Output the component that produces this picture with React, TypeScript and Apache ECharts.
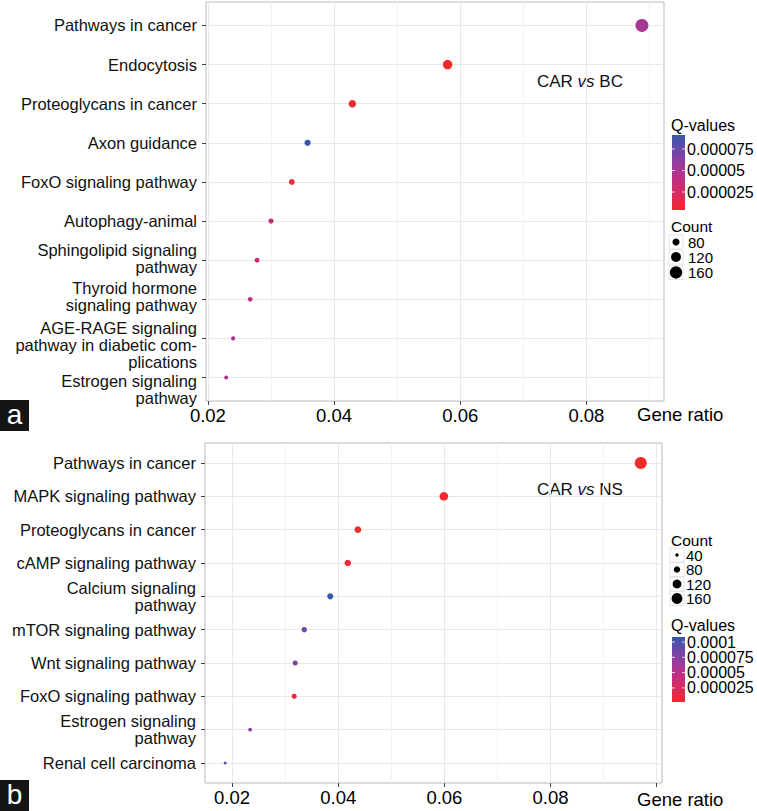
import React, { useEffect, useRef } from "react";
import * as echarts from "echarts";

// ---------- DATA ----------
const topCategories = [
  "Pathways in cancer",
  "Endocytosis",
  "Proteoglycans in cancer",
  "Axon guidance",
  "FoxO signaling pathway",
  "Autophagy-animal",
  "Sphingolipid signaling\npathway",
  "Thyroid hormone\nsignaling pathway",
  "AGE-RAGE signaling\npathway in diabetic com-\nplications",
  "Estrogen signaling\npathway",
];
const topGeneRatio = [0.0888, 0.058, 0.0429, 0.0358, 0.0333, 0.03, 0.0278, 0.0267, 0.024, 0.0229];
const topCount = [172, 112, 84, 70, 65, 58, 54, 52, 47, 45];
const topQValue = [0.00005, 0.0000041, 0.000006, 0.0000913, 0.000008, 0.000034, 0.000033, 0.000043, 0.000047, 0.000045];

const bottomCategories = [
  "Pathways in cancer",
  "MAPK signaling pathway",
  "Proteoglycans in cancer",
  "cAMP signaling pathway",
  "Calcium signaling\npathway",
  "mTOR signaling pathway",
  "Wnt signaling pathway",
  "FoxO signaling pathway",
  "Estrogen signaling\npathway",
  "Renal cell carcinoma",
];
const bottomGeneRatio = [0.097, 0.0599, 0.0437, 0.0418, 0.0385, 0.0336, 0.0319, 0.0317, 0.0234, 0.0187];
const bottomCount = [188, 116, 85, 81, 75, 65, 62, 61, 45, 36];
const bottomQValue = [0.000002, 0.000004, 0.000005, 0.000007, 0.0001082, 0.000087, 0.00008, 0.000008, 0.000074, 0.000092];

const xTickLabels = [0.02, 0.04, 0.06, 0.08];
const topMajorTicks = [0.02, 0.04, 0.06, 0.08];
const topMinorTicks = [0.03, 0.05, 0.07, 0.09];
const bottomMajorTicks = [0.02, 0.04, 0.06, 0.08, 0.1];
const bottomMinorTicks = [0.03, 0.05, 0.07, 0.09];

const topCountBreaks = [80, 120, 160];
const bottomCountBreaks = [40, 80, 120, 160];
const topQBreaks = [0.000075, 0.00005, 0.000025];
const topQLabels = ["0.000075", "0.00005", "0.000025"];
const bottomQBreaks = [0.0001, 0.000075, 0.00005, 0.000025];
const bottomQLabels = ["0.0001", "0.000075", "0.00005", "0.000025"];

// ---------- STYLE ----------
const FONT = "'Liberation Sans', Arial, Helvetica, sans-serif";
const qColors = ["#ef2a2b", "#da2a5a", "#c02f82", "#9c3a9e", "#6a48a7", "#3558ab"];
const LABEL_SIZE = 16.5;
const LABEL_LH = 17;
// vertical nudges (px, + = down) of some wrapped y labels, as in the reference
const topLabelNudge: Record<number, number> = { 6: -2, 7: -3, 8: 7, 9: 12 };
const bottomLabelNudge: Record<number, number> = {};

function sizeScale(counts: number[], range: [number, number]) {
  const lo = Math.sqrt(Math.min(...counts));
  const hi = Math.sqrt(Math.max(...counts));
  return (c: number) => range[0] + ((Math.sqrt(c) - lo) / (hi - lo)) * (range[1] - range[0]);
}

function nudgedLabel(text: string, nudge: number) {
  const body = text
    .split("\n")
    .map((l) => `{t|${l}}`)
    .join("\n");
  if (!nudge) return body;
  const gap = `{g${nudge > 0 ? "d" : "u"}${Math.abs(nudge)}| }`;
  return nudge > 0 ? `${gap}\n${body}` : `${body}\n${gap}`;
}

const panels = [
  {
    cats: topCategories,
    ratio: topGeneRatio,
    count: topCount,
    q: topQValue,
    nudge: topLabelNudge,
    grid: { left: 206, top: 2, width: 458, height: 399 },
    xMin: 0.0197,
    xMax: 0.0923,
    major: topMajorTicks,
    minor: topMinorTicks,
    sizeRange: [4, 13] as [number, number],
    title: { text: "{a|CAR }{i|vs}{a| BC}", x: 537, y: 81 },
    letter: { text: "a", y: 400 },
    geneRatioY: 414,
    countLegend: { titleY: 226, rows: [242, 257, 272.5], dotX: 676, labelX: 688, breaks: topCountBreaks },
    qLegend: { titleY: 125, barY: 135, barH: 75, breaks: topQBreaks, labels: topQLabels },
  },
  {
    cats: bottomCategories,
    ratio: bottomGeneRatio,
    count: bottomCount,
    q: bottomQValue,
    nudge: bottomLabelNudge,
    grid: { left: 205, top: 443, width: 457, height: 340 },
    xMin: 0.0149,
    xMax: 0.101,
    major: bottomMajorTicks,
    minor: bottomMinorTicks,
    sizeRange: [3, 12] as [number, number],
    title: { text: "{a|CAR }{i|vs}{a| NS}", x: 537, y: 489 },
    letter: { text: "b", y: 780 },
    geneRatioY: 799,
    countLegend: { titleY: 540, rows: [555, 569.5, 584, 598.5], dotX: 677, labelX: 686, breaks: bottomCountBreaks },
    qLegend: { titleY: 625, barY: 637, barH: 65, breaks: bottomQBreaks, labels: bottomQLabels },
  },
];

export default function App() {
  const ref = useRef<HTMLDivElement>(null);

  useEffect(() => {
    if (!ref.current) return;
    const chart = echarts.init(ref.current, null, { renderer: "svg" });

    const grid: any[] = [];
    const xAxis: any[] = [];
    const yAxis: any[] = [];
    const series: any[] = [];
    const visualMap: any[] = [];
    const graphic: any[] = [];

    panels.forEach((p, i) => {
      const size = sizeScale(p.count, p.sizeRange);
      const qMin = Math.min(...p.q);
      const qMax = Math.max(...p.q);
      const idx = p.cats.map((_, k) => k);
      const evenIdx = idx.filter((k) => k % 2 === 0);
      const oddIdx = idx.filter((k) => k % 2 === 1);

      grid.push({
        ...p.grid,
        show: true,
        borderColor: "#b8b8b8",
        borderWidth: 1,
        backgroundColor: "#ffffff",
      });

      xAxis.push({
        type: "value",
        gridIndex: i,
        min: p.xMin,
        max: p.xMax,
        position: "bottom",
        axisLine: { show: false, onZero: false },
        axisTick: { show: true, customValues: p.major, length: 4, lineStyle: { color: "#444", width: 1 } },
        axisLabel: {
          show: true,
          customValues: xTickLabels,
          showMinLabel: true,
          showMaxLabel: true,
          formatter: (v: number) => String(+Number(v).toFixed(2)),
          fontSize: 18.5,
          fontFamily: FONT,
          color: "#000",
          margin: 5,
        },
        splitLine: { show: true, lineStyle: { color: "#e8e8e8", width: 1 } },
      });
      xAxis.push({
        type: "value",
        gridIndex: i,
        min: p.xMin,
        max: p.xMax,
        position: "top",
        axisLine: { show: false, onZero: false },
        axisTick: { show: false, customValues: p.minor },
        axisLabel: { show: false },
        splitLine: { show: true, lineStyle: { color: "#f2f2f2", width: 1 } },
      });

      const rich: any = {
        t: { fontSize: LABEL_SIZE, lineHeight: LABEL_LH, fontFamily: FONT, color: "#111", align: "right" },
      };
      Object.values(p.nudge).forEach((nd) => {
        rich[`g${nd > 0 ? "d" : "u"}${Math.abs(nd)}`] = { fontSize: 1, lineHeight: 2 * Math.abs(nd) };
      });
      const labelStyle = {
        fontSize: LABEL_SIZE,
        lineHeight: LABEL_LH,
        fontFamily: FONT,
        color: "#111",
        margin: 9,
        align: "right",
        hideOverlap: false,
        rich,
        formatter: (v: number) => {
          const k = Math.round(v);
          return nudgedLabel(p.cats[k] ?? "", p.nudge[k] ?? 0);
        },
      };

      // main y axis: ticks, grid lines, labels of even rows
      yAxis.push({
        type: "value",
        gridIndex: i,
        inverse: true,
        position: "left",
        min: -0.6,
        max: p.cats.length - 0.4,
        axisLine: { show: false, onZero: false },
        axisTick: { show: true, customValues: idx, length: 4, lineStyle: { color: "#444", width: 1 } },
        axisLabel: { show: true, customValues: evenIdx, ...labelStyle },
        splitLine: { show: true, lineStyle: { color: "#e8e8e8", width: 1 } },
      });
      // companion y axis: labels of odd rows (kept apart so none gets hidden)
      yAxis.push({
        type: "value",
        gridIndex: i,
        inverse: true,
        position: "left",
        offset: 0,
        min: -0.6,
        max: p.cats.length - 0.4,
        axisLine: { show: false, onZero: false },
        axisTick: { show: false, customValues: oddIdx },
        axisLabel: { show: true, customValues: oddIdx, ...labelStyle },
        splitLine: { show: false },
      });

      series.push({
        type: "scatter",
        xAxisIndex: 2 * i,
        yAxisIndex: 2 * i,
        data: p.ratio.map((r, k) => [r, k, p.count[k], p.q[k]]),
        symbol: "circle",
        symbolSize: (d: number[]) => size(d[2]),
        itemStyle: { opacity: 1 },
        z: 5,
      });

      visualMap.push({
        type: "continuous",
        show: false,
        seriesIndex: i,
        dimension: 3,
        min: qMin,
        max: qMax,
        inRange: { color: qColors },
      });

      // annotation text
      graphic.push({
        type: "text",
        x: p.title.x,
        y: p.title.y,
        style: {
          text: p.title.text,
          rich: {
            a: { fontSize: 17, fontFamily: FONT, fill: "#111" },
            i: { fontSize: 17, fontFamily: FONT, fontStyle: "italic", fill: "#111" },
          },
          verticalAlign: "middle",
          align: "left",
        },
      });

      // "Gene ratio"
      graphic.push({
        type: "text",
        x: 637,
        y: p.geneRatioY,
        style: { text: "Gene ratio", fontSize: 18.5, fontFamily: FONT, fill: "#000", verticalAlign: "middle", align: "left" },
      });

      // panel letter
      graphic.push({
        type: "rect",
        shape: { x: 0, y: p.letter.y, width: 29, height: 31 },
        style: { fill: "#151515" },
      });
      graphic.push({
        type: "text",
        x: 14.5,
        y: p.letter.y + 14,
        style: { text: p.letter.text, fontSize: 28, fontFamily: FONT, fill: "#fff", align: "center", verticalAlign: "middle" },
      });

      // Count legend
      const cl = p.countLegend;
      graphic.push({
        type: "text",
        x: 671,
        y: cl.titleY,
        style: { text: "Count", fontSize: 15.5, fontFamily: FONT, fill: "#000", verticalAlign: "middle", align: "left" },
      });
      cl.breaks.forEach((b, k) => {
        const y = cl.rows[k];
        graphic.push({
          type: "rect",
          shape: { x: cl.dotX - 7, y: y - 7, width: 14, height: 14 },
          style: { fill: "#fff", stroke: "#dddddd", lineWidth: 0.8 },
        });
        graphic.push({
          type: "circle",
          shape: { cx: cl.dotX, cy: y, r: size(b) / 2 },
          style: { fill: "#000" },
        });
        graphic.push({
          type: "text",
          x: cl.labelX,
          y,
          style: { text: String(b), fontSize: 15, fontFamily: FONT, fill: "#000", verticalAlign: "middle", align: "left" },
        });
      });

      // Q legend
      const ql = p.qLegend;
      const barX = 672;
      const barW = 13;
      graphic.push({
        type: "text",
        x: 671,
        y: ql.titleY,
        style: { text: "Q-values", fontSize: 16, fontFamily: FONT, fill: "#000", verticalAlign: "middle", align: "left" },
      });
      const n = qColors.length;
      graphic.push({
        type: "rect",
        shape: { x: barX, y: ql.barY, width: barW, height: ql.barH },
        style: {
          fill: new echarts.graphic.LinearGradient(
            0,
            0,
            0,
            1,
            qColors.map((_, k) => ({ offset: k / (n - 1), color: qColors[n - 1 - k] }))
          ),
        },
      });
      ql.breaks.forEach((b, k) => {
        const y = ql.barY + ql.barH - ((b - qMin) / (qMax - qMin)) * ql.barH;
        graphic.push({
          type: "line",
          shape: { x1: barX, y1: y, x2: barX + 3, y2: y },
          style: { stroke: "#ffffff", lineWidth: 1, opacity: 0.8 },
        });
        graphic.push({
          type: "line",
          shape: { x1: barX + barW - 3, y1: y, x2: barX + barW, y2: y },
          style: { stroke: "#ffffff", lineWidth: 1, opacity: 0.8 },
        });
        graphic.push({
          type: "text",
          x: 687,
          y,
          style: { text: ql.labels[k], fontSize: 16, fontFamily: FONT, fill: "#000", verticalAlign: "middle", align: "left" },
        });
      });
    });

    chart.setOption({
      animation: false,
      backgroundColor: "#ffffff",
      textStyle: { fontFamily: FONT },
      grid,
      xAxis,
      yAxis,
      series,
      visualMap,
      graphic,
    });

    return () => chart.dispose();
  }, []);

  return (
    <div
      ref={ref}
      style={{ position: "fixed", left: 0, top: 0, width: 757, height: 811, background: "#fff" }}
    />
  );
}
